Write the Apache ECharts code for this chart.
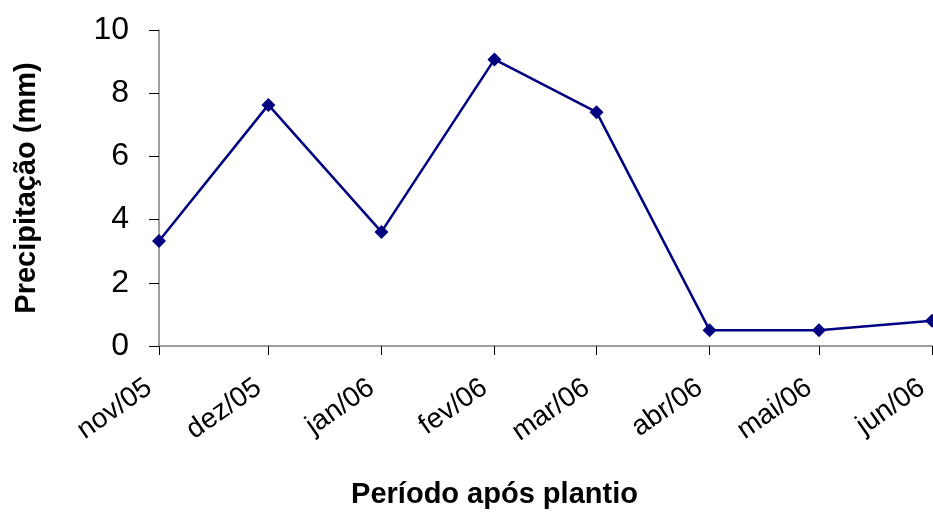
<!DOCTYPE html>
<html>
<head>
<meta charset="utf-8">
<script src="https://cdn.jsdelivr.net/npm/echarts@6/dist/echarts.min.js"></script>
<style>
  html, body { margin: 0; padding: 0; background: #fff; }
  #chart { width: 933px; height: 513px; }
</style>
</head>
<body>
<div id="chart"></div>
<script>
// meses (rótulos do eixo x) e datas correspondentes
const monthLabels = ['nov/05', 'dez/05', 'jan/06', 'fev/06', 'mar/06', 'abr/06', 'mai/06', 'jun/06']
const monthDates = ['2005-11-01', '2005-12-01', '2006-01-01', '2006-02-01', '2006-03-01', '2006-04-01', '2006-05-01', '2006-06-01']
// precipitação (mm)
const precip = [3.32, 7.63, 3.61, 9.07, 7.4, 0.5, 0.5, 0.8]

// dias desde o início (eixo é proporcional ao tempo)
function toDay(s) {
  const p = s.split('-')
  return Math.round(Date.UTC(+p[0], +p[1] - 1, +p[2]) / 86400000)
}
const day0 = toDay(monthDates[0])
const days = monthDates.map((d) => toDay(d) - day0)
const labelByDay = {}
days.forEach((d, i) => { labelByDay[d] = monthLabels[i] })

let myChart = echarts.init(document.getElementById('chart'))
myChart.setOption({
  animation: false,
  textStyle: { fontFamily: 'Liberation Sans, Arial, sans-serif' },
  grid: { left: 159, right: 1, top: 30, bottom: 167, containLabel: false, outerBoundsMode: 'none' },
  xAxis: {
    type: 'value',
    min: days[0],
    max: days[days.length - 1],
    name: 'Período após plantio',
    nameLocation: 'middle',
    nameGap: 134,
    nameTextStyle: { fontSize: 29, fontWeight: 'bold', color: '#000', padding: [0, 102, 0, 0] },
    axisLine: { lineStyle: { color: '#808080', width: 1.5 } },
    axisTick: { show: true, inside: false, length: 9, customValues: days, lineStyle: { color: '#000' } },
    axisLabel: {
      customValues: days,
      rotate: 35,
      margin: 32,
      fontSize: 28,
      color: '#000',
      padding: [0, 12, 0, 0],
      hideOverlap: false,
      formatter: (v) => labelByDay[v] || '',
    },
    splitLine: { show: false },
  },
  yAxis: {
    type: 'value',
    min: 0,
    max: 10,
    interval: 2,
    name: 'Precipitação (mm)',
    nameLocation: 'middle',
    nameGap: 118,
    nameTextStyle: { fontSize: 29, fontWeight: 'bold', color: '#000' },
    axisLine: { show: true, lineStyle: { color: '#808080', width: 1.5 } },
    axisTick: { show: true, inside: false, length: 10, lineStyle: { color: '#000' } },
    axisLabel: { fontSize: 32, color: '#000', margin: 30 },
    splitLine: { show: false },
  },
  series: [
    {
      type: 'line',
      data: days.map((d, i) => [d, precip[i]]),
      symbol: 'diamond',
      symbolSize: 14,
      lineStyle: { color: '#000080', width: 2.5 },
      itemStyle: { color: '#000080' },
      clip: false,
    },
  ],
})
</script>
</body>
</html>
